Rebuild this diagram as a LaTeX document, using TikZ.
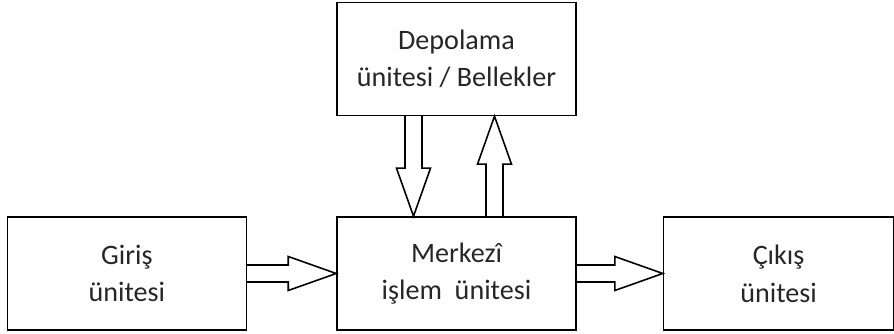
\documentclass[tikz,border=0pt]{standalone}
\usepackage{fontspec}
\setmainfont{Carlito}
\usetikzlibrary{positioning,calc}
\definecolor{figtext}{gray}{0.15}
\tikzset{
  fig/.style={font=\fontsize{16}{21.5}\selectfont,text=figtext},
  box/.style={draw,line width=0.9pt,minimum height=22.6mm,minimum width=47.8mm,
              align=center,inner sep=2pt},
  blok/.style={line width=0.9pt,to path={
    let \p1=($(\tikztotarget)-(\tikztostart)$),
        \n1={atan2(\y1,\x1)}, \n2={veclen(\x1,\y1)*1pt-9.6mm} in
    ($(\tikztostart)+(\n1+90:1.7mm)$)
    -- ($(\tikztostart)+(\n1:\n2)+(\n1+90:1.7mm)$)
    -- ($(\tikztostart)+(\n1:\n2)+(\n1+90:3.4mm)$)
    -- (\tikztotarget)
    -- ($(\tikztostart)+(\n1:\n2)+(\n1-90:3.4mm)$)
    -- ($(\tikztostart)+(\n1:\n2)+(\n1-90:1.7mm)$)
    -- ($(\tikztostart)+(\n1-90:1.7mm)$)}},
}

\begin{document}
\begin{tikzpicture}[fig]
\useasboundingbox (-9.13,-1.21) rectangle (8.75,5.47);

\node[box] (cpu) {Merkezî\\işlem~ ünitesi};
\node[box,left=17.8mm of cpu] (giris) {Giriş\\ünitesi};
\node[box,right=17.2mm of cpu,minimum width=46mm] (cikis) {Çıkış\\ünitesi};
\node[box,above=20mm of cpu] (bellek) {Depolama\\ünitesi / Bellekler};

\draw[blok] (giris.east) to (cpu.west);
\draw[blok] (cpu.east) to (cikis.west);
\draw[blok] ([xshift=-8.6mm]bellek.south) to ([xshift=-8.6mm]cpu.north);
\draw[blok] ([xshift=7.6mm]cpu.north) to ([xshift=7.6mm]bellek.south);

\end{tikzpicture}
\end{document}
